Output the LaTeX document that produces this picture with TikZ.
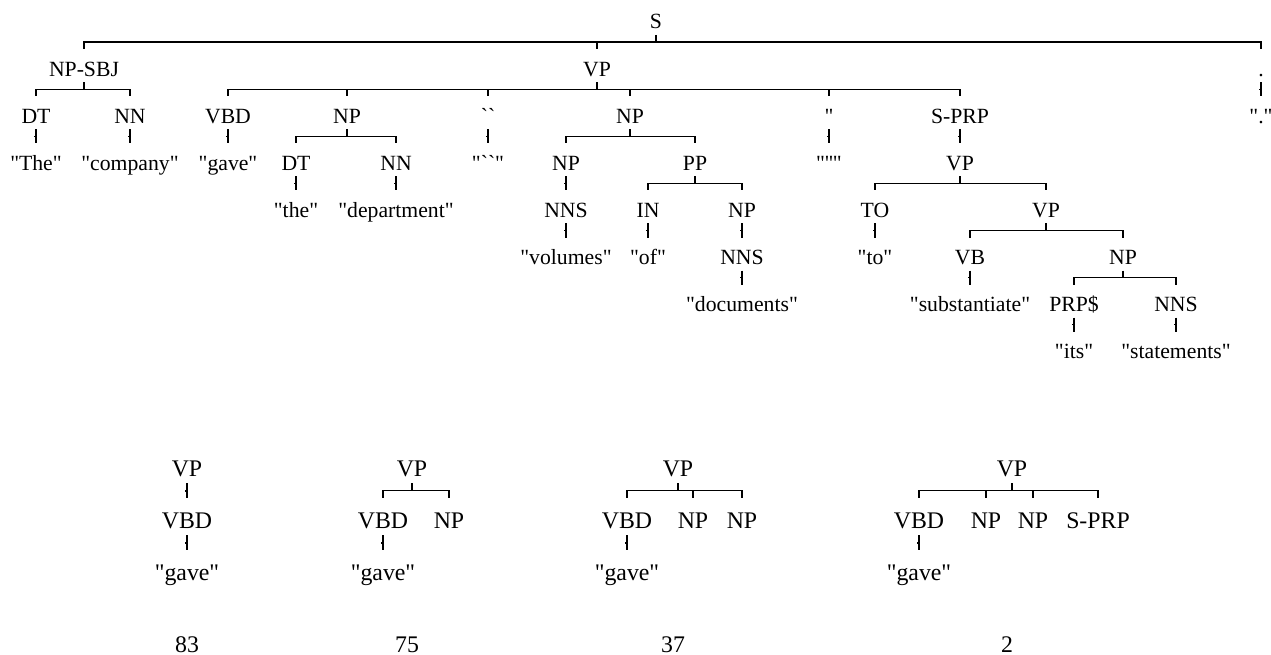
\documentclass[tikz,border=0pt]{standalone}
\usepackage{fontspec}
\newfontfamily\tf{Liberation Serif}
\usetikzlibrary{calc}
\tikzset{
  lab/.style={font=\tf\fontsize{21.7}{24}\selectfont, inner sep=0pt, anchor=base},
  blab/.style={font=\tf\fontsize{23.8}{26}\selectfont, inner sep=0pt, anchor=base},
  edge/.style={line width=1.1pt, line cap=butt},
}
% main tree connectors
\newcommand\kids[4]{% parent, first, last, all children
  \coordinate (bar-#1) at ($(#1.base)+(0,-13pt)$);
  \draw[edge] ($(#1.base)+(0,-6pt)$) -- (bar-#1);
  \draw[edge] ($(bar-#1 -| #2.base)+(-0.55pt,0)$) -- ($(bar-#1 -| #3.base)+(0.55pt,0)$);
  \foreach \cc in {#4} {\draw[edge] (bar-#1 -| \cc.base) -- ($(\cc.base)+(0,27pt)$);}
}
\newcommand\one[2]{% parent, single child
  \draw[edge] ($(#1.base)+(0,-6pt)$) -- ($(#2.base)+(0,27pt)$);
  \draw[edge] ($(#1.base)+(-1.8pt,-13pt)$) -- ($(#1.base)+(1.2pt,-13pt)$);
}
% bottom tree connectors (1.1x)
\newcommand\bkids[4]{%
  \coordinate (bar-#1) at ($(#1.base)+(0,-14.5pt)$);
  \draw[edge] ($(#1.base)+(0,-7pt)$) -- (bar-#1);
  \draw[edge] ($(bar-#1 -| #2.base)+(-0.55pt,0)$) -- ($(bar-#1 -| #3.base)+(0.55pt,0)$);
  \foreach \cc in {#4} {\draw[edge] (bar-#1 -| \cc.base) -- ($(\cc.base)+(0,30pt)$);}
}
\newcommand\bone[2]{%
  \draw[edge] ($(#1.base)+(0,-7pt)$) -- ($(#2.base)+(0,30pt)$);
  \draw[edge] ($(#1.base)+(-1.9pt,-15pt)$) -- ($(#1.base)+(1.3pt,-15pt)$);
}
\begin{document}
\begin{tikzpicture}[x=1pt,y=-1pt]
\useasboundingbox (0,0) rectangle (1271,655);
% rows baselines
\def\rA{29}\def\rB{76.1}\def\rC{123.2}\def\rD{170.3}\def\rE{217.4}\def\rF{264.5}\def\rG{311.6}\def\rH{358.7}
% row 0
\node[lab] (S) at (656,\rA) {S};
% row 1
\node[lab] (npsbj) at (84,\rB) {NP-SBJ};
\node[lab] (vp) at (597,\rB) {VP};
\node[lab] (dot) at (1261,\rB) {.};
% row 2
\node[lab] (dt1) at (36,\rC) {DT};
\node[lab] (nn1) at (130,\rC) {NN};
\node[lab] (vbd) at (228,\rC) {VBD};
\node[lab] (np1) at (347,\rC) {NP};
\node[lab] (oq) at (488,\rC) {``};
\node[lab] (np2) at (630,\rC) {NP};
\node[lab] (cq) at (829,\rC) {''};
\node[lab] (sprp) at (960,\rC) {S-PRP};
\node[lab] (wdot) at (1261,\rC) {"."};
% row 3
\node[lab] (wthe) at (36,\rD) {"The"};
\node[lab] (wcompany) at (130,\rD) {"company"};
\node[lab] (wgave) at (228,\rD) {"gave"};
\node[lab] (dt2) at (296,\rD) {DT};
\node[lab] (nn2) at (396,\rD) {NN};
\node[lab] (woq) at (488,\rD) {"``"};
\node[lab] (np3) at (566,\rD) {NP};
\node[lab] (pp) at (695,\rD) {PP};
\node[lab] (wcq) at (829,\rD) {"''"};
\node[lab] (vp2) at (960,\rD) {VP};
% row 4
\node[lab] (wthe2) at (296,\rE) {"the"};
\node[lab] (wdept) at (396,\rE) {"department"};
\node[lab] (nns1) at (566,\rE) {NNS};
\node[lab] (in) at (648,\rE) {IN};
\node[lab] (np4) at (742,\rE) {NP};
\node[lab] (to) at (875,\rE) {TO};
\node[lab] (vp3) at (1046,\rE) {VP};
% row 5
\node[lab] (wvol) at (566,\rF) {"volumes"};
\node[lab] (wof) at (648,\rF) {"of"};
\node[lab] (nns2) at (742,\rF) {NNS};
\node[lab] (wto) at (875,\rF) {"to"};
\node[lab] (vb) at (970,\rF) {VB};
\node[lab] (np5) at (1123,\rF) {NP};
% row 6
\node[lab] (wdoc) at (742,\rG) {"documents"};
\node[lab] (wsub) at (970,\rG) {"substantiate"};
\node[lab] (prp) at (1074,\rG) {PRP\$};
\node[lab] (nns3) at (1176,\rG) {NNS};
% row 7
\node[lab] (wits) at (1074,\rH) {"its"};
\node[lab] (wstat) at (1176,\rH) {"statements"};
% connectors
\kids{S}{npsbj}{dot}{npsbj,vp,dot}
\kids{npsbj}{dt1}{nn1}{dt1,nn1}
\kids{vp}{vbd}{sprp}{vbd,np1,oq,np2,cq,sprp}
\one{dot}{wdot}
\one{dt1}{wthe}
\one{nn1}{wcompany}
\one{vbd}{wgave}
\kids{np1}{dt2}{nn2}{dt2,nn2}
\one{oq}{woq}
\kids{np2}{np3}{pp}{np3,pp}
\one{cq}{wcq}
\one{sprp}{vp2}
\one{dt2}{wthe2}
\one{nn2}{wdept}
\one{np3}{nns1}
\kids{pp}{in}{np4}{in,np4}
\kids{vp2}{to}{vp3}{to,vp3}
\one{nns1}{wvol}
\one{in}{wof}
\one{np4}{nns2}
\one{to}{wto}
\kids{vp3}{vb}{np5}{vb,np5}
\one{nns2}{wdoc}
\one{vb}{wsub}
\kids{np5}{prp}{nns3}{prp,nns3}
\one{prp}{wits}
\one{nns3}{wstat}
% bottom trees
\def\bA{476}\def\bB{528}\def\bC{580}\def\bN{652}
% tree 1
\node[blab] (tavp) at (187,\bA) {VP};
\node[blab] (tavbd) at (187,\bB) {VBD};
\node[blab] (tagave) at (187,\bC) {"gave"};
\node[blab] (tanum) at (187,\bN) {83};
\bone{tavp}{tavbd}
\bone{tavbd}{tagave}
% tree 2
\node[blab] (tbvp) at (412,\bA) {VP};
\node[blab] (tbvbd) at (383,\bB) {VBD};
\node[blab] (tbnp) at (449,\bB) {NP};
\node[blab] (tbgave) at (383,\bC) {"gave"};
\node[blab] (tbnum) at (407,\bN) {75};
\bkids{tbvp}{tbvbd}{tbnp}{tbvbd,tbnp}
\bone{tbvbd}{tbgave}
% tree 3
\node[blab] (tcvp) at (678,\bA) {VP};
\node[blab] (tcvbd) at (627,\bB) {VBD};
\node[blab] (tcnpa) at (693,\bB) {NP};
\node[blab] (tcnpb) at (742,\bB) {NP};
\node[blab] (tcgave) at (627,\bC) {"gave"};
\node[blab] (tcnum) at (673,\bN) {37};
\bkids{tcvp}{tcvbd}{tcnpb}{tcvbd,tcnpa,tcnpb}
\bone{tcvbd}{tcgave}
% tree 4
\node[blab] (tdvp) at (1012,\bA) {VP};
\node[blab] (tdvbd) at (919,\bB) {VBD};
\node[blab] (tdnpa) at (986,\bB) {NP};
\node[blab] (tdnpb) at (1033,\bB) {NP};
\node[blab] (tdsprp) at (1098,\bB) {S-PRP};
\node[blab] (tdgave) at (919,\bC) {"gave"};
\node[blab] (tdnum) at (1007,\bN) {2};
\bkids{tdvp}{tdvbd}{tdsprp}{tdvbd,tdnpa,tdnpb,tdsprp}
\bone{tdvbd}{tdgave}
\end{tikzpicture}
\end{document}
